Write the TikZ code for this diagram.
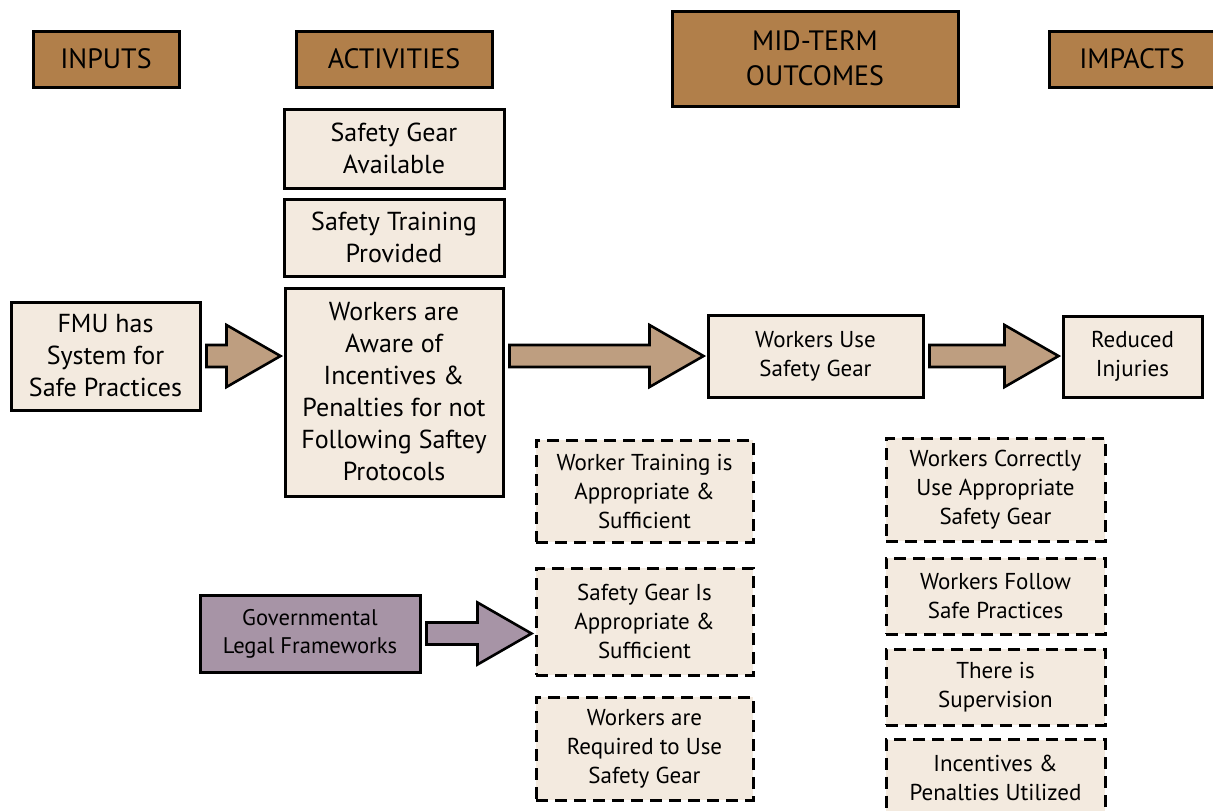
\documentclass[tikz,border=0pt]{standalone}
\usepackage{fontspec}
\setmainfont{PT Sans}
\usetikzlibrary{calc}
\definecolor{headbrown}{RGB}{177,127,74}
\definecolor{boxbeige}{RGB}{243,234,223}
\definecolor{arrowtan}{RGB}{190,158,128}
\definecolor{legalmauve}{RGB}{167,148,166}
\tikzset{
	head/.style={draw,line width=1.5pt,fill=headbrown,align=center,inner sep=0pt,font=\fontsize{14}{17.5}\selectfont},
	box/.style={draw,line width=1.5pt,fill=boxbeige,rectangle,align=center,inner sep=0pt,font=\fontsize{13}{16}\selectfont},
	smallbox/.style={box,font=\fontsize{11.5}{14.5}\selectfont},
	assumption/.style={smallbox,dash pattern=on 6pt off 3.5pt},
	legal/.style={smallbox,fill=legalmauve,font=\fontsize{11.3}{14}\selectfont},
	fat/.style={draw,line width=1.3pt,fill=arrowtan,line join=miter},
	legalfat/.style={fat,fill=legalmauve}
}
\newcommand{\fatarrow}[3][fat]{%
	\path[#1] let \p1=(#2), \p2=(#3) in
		({\x1+2.5pt},{\y1+5.5pt}) -- ({\x2-1.5pt-27pt},{\y1+5.5pt}) -- ({\x2-1.5pt-27pt},{\y1+15.5pt})
		-- ({\x2-1.5pt},\y1) -- ({\x2-1.5pt-27pt},{\y1-15.5pt}) -- ({\x2-1.5pt-27pt},{\y1-5.5pt})
		-- ({\x1+2.5pt},{\y1-5.5pt}) -- cycle;}

\begin{document}
\begin{tikzpicture}[x=0.5pt,y=-0.5pt]
			\useasboundingbox (0,0) rectangle (1213,810);
			\node[head,minimum width=73pt,minimum height=28pt] (inputs) at (106,59) {INPUTS};
			\node[head,minimum width=98pt,minimum height=28pt] (activities) at (394,59) {ACTIVITIES};
			\node[head,minimum width=143pt,minimum height=47.5pt] (midterm) at (815,58.5) {MID-TERM\\OUTCOMES};
			\node[head,minimum width=83pt,minimum height=28pt] (impacts) at (1132,59) {IMPACTS};
			
			\node[box,minimum width=110pt,minimum height=39.5pt] (gear) at (394,148.5) {Safety Gear\\Available};
			\node[box,minimum width=110pt,minimum height=38.5pt] (training) at (394,237.5) {Safety Training\\Provided};
			\node[box,minimum width=109pt,minimum height=104pt] (aware) at (394,392) {Workers are\\Aware of\\Incentives \&\\Penalties for not\\Following Saftey\\Protocols};
			\node[box,minimum width=94.5pt,minimum height=54pt] (fmu) at (105.5,356) {FMU has\\System for\\Safe Practices};
			\node[smallbox,minimum width=107.5pt,minimum height=41pt] (use) at (815.5,356) {Workers Use\\Safety Gear};
			\node[smallbox,minimum width=69.5pt,minimum height=40.5pt] (injuries) at (1132.5,356.5) {Reduced\\Injuries};
			
			\node[assumption,minimum width=108.5pt,minimum height=51pt] (trainok) at (644.5,491) {Worker Training is\\Appropriate \&\\Sufficient};
			\node[assumption,minimum width=108.5pt,minimum height=53.5pt] (gearok) at (644.5,621.5) {Safety Gear Is\\Appropriate \&\\Sufficient};
			\node[assumption,minimum width=108.5pt,minimum height=51.5pt] (required) at (644.5,748.5) {Workers are\\Required to Use\\Safety Gear};
			\node[assumption,minimum width=109.5pt,minimum height=51.5pt] (correct) at (995.5,489.5) {Workers Correctly\\Use Appropriate\\Safety Gear};
			\node[assumption,minimum width=109.5pt,minimum height=38pt] (follow) at (995.5,596) {Workers Follow\\Safe Practices};
			\node[assumption,minimum width=109.5pt,minimum height=38pt] (supervision) at (995.5,687) {There is\\Supervision};
			\node[assumption,minimum width=109.5pt,minimum height=38pt] (penalties) at (995.5,777.5) {Incentives \&\\Penalties Utilized};
			\node[legal,minimum width=110pt,minimum height=38.5pt] (frameworks) at (310,633.5) {Governmental\\Legal Frameworks};
			
			\fatarrow{fmu.east}{fmu.east -| aware.west}
			\fatarrow{use.west -| aware.east}{use.west}
			\fatarrow{use.east}{injuries.west}
			\fatarrow[legalfat]{frameworks.east}{frameworks.east -| gearok.west}
		\end{tikzpicture}
\end{document}
